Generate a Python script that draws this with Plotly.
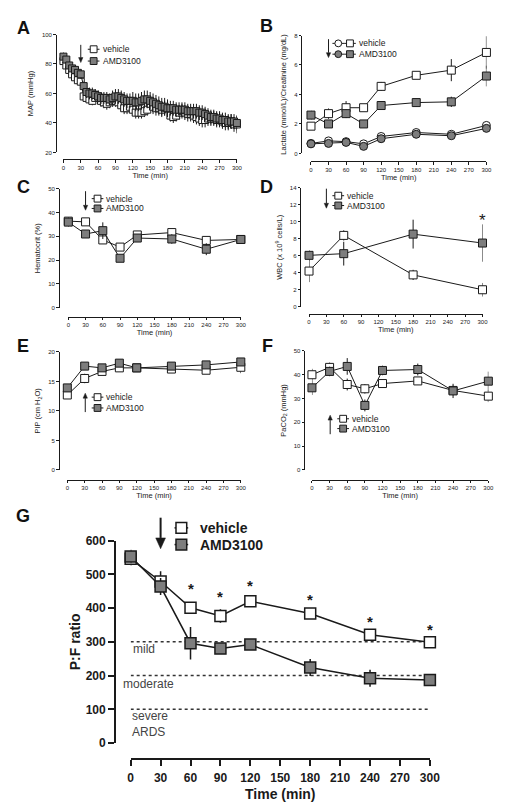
import plotly.graph_objects as go

# ---------------- data ----------------
x_ticks = [0, 30, 60, 90, 120, 150, 180, 210, 240, 270, 300]

# A: MAP, sampled every 5 min
time_map = list(range(0, 301, 5))
map_vehicle = [82, 79, 76, 73, 71, 69, 68,
               58, 57, 56, 55, 57, 58,
               55, 54, 53, 54, 55, 55,
               54, 52, 50, 50, 51, 49,
               47, 47, 47, 48, 49, 53,
               51, 50, 50, 49, 50, 50,
               45, 44, 45, 47, 48, 47,
               46, 46, 45, 44, 43, 42,
               42, 43, 43, 43, 42, 42,
               41, 40, 40, 41, 39, 39]
map_vehicle_sem = [3, 3, 3, 3, 3, 3, 3,
                   3, 3, 3, 3, 4, 4,
                   4, 4, 4, 4, 4, 4,
                   4, 4, 4, 4, 4, 4,
                   4, 4, 4, 4, 4, 5,
                   5, 5, 5, 5, 5, 5,
                   4, 4, 4, 5, 5, 5,
                   5, 5, 5, 5, 5, 5,
                   5, 5, 5, 5, 5, 5,
                   5, 5, 5, 5, 5, 6]
map_amd = [85, 83, 79, 77, 76, 74, 73,
           65, 61, 60, 60, 59, 58,
           57, 57, 57, 56, 57, 58,
           58, 57, 56, 55, 55, 55,
           54, 54, 55, 56, 56, 55,
           54, 53, 52, 51, 51, 50,
           50, 50, 49, 49, 49, 49,
           48, 48, 48, 48, 47, 47,
           46, 45, 44, 44, 43, 43,
           42, 42, 41, 41, 41, 40]
map_amd_sem = [3, 3, 3, 3, 3, 3, 3,
               3, 4, 4, 4, 4, 4,
               4, 4, 4, 4, 5, 5,
               5, 5, 5, 5, 5, 6,
               6, 6, 6, 6, 6, 6,
               6, 6, 6, 6, 6, 6,
               5, 5, 5, 5, 5, 5,
               5, 5, 5, 5, 5, 5,
               5, 5, 5, 5, 5, 5,
               5, 5, 5, 5, 5, 5]

time_8 = [0, 30, 60, 90, 120, 180, 240, 300]

# B: lactate (squares) and creatinine (circles)
lactate_vehicle = [1.85, 2.7, 3.1, 3.1, 4.55, 5.3, 5.65, 6.85]
lactate_vehicle_sem = [0.2, 0.35, 0.45, 0.2, 0.3, 0.2, 0.75, 1.1]
lactate_amd = [2.6, 2.0, 2.7, 2.0, 3.25, 3.45, 3.5, 5.25]
lactate_amd_sem = [0.3, 0.2, 0.3, 0.15, 0.2, 0.25, 0.35, 0.7]
creat_vehicle = [0.68, 0.85, 0.8, 0.65, 1.15, 1.42, 1.3, 1.9]
creat_vehicle_sem = [0.05, 0.1, 0.1, 0.1, 0.1, 0.15, 0.1, 0.15]
creat_amd = [0.65, 0.68, 0.75, 0.48, 1.0, 1.3, 1.2, 1.7]
creat_amd_sem = [0.05, 0.08, 0.1, 0.08, 0.1, 0.12, 0.1, 0.12]

# C: hematocrit
hct_vehicle = [36.4, 36.1, 28.5, 25.5, 30.6, 31.6, 28.3, 28.7]
hct_vehicle_sem = [1.5, 1.0, 1.5, 1.5, 1.0, 1.5, 1.0, 1.0]
hct_amd = [36.0, 31.0, 32.4, 20.8, 29.3, 28.9, 24.6, 28.7]
hct_amd_sem = [2.0, 1.0, 3.5, 1.0, 1.0, 2.0, 2.5, 1.0]

# D: WBC
time_wbc = [0, 60, 180, 300]
wbc_vehicle = [4.2, 8.4, 3.75, 2.0]
wbc_vehicle_sem = [1.3, 0.6, 0.6, 0.8]
wbc_amd = [6.05, 6.25, 8.55, 7.5]
wbc_amd_sem = [0.6, 1.4, 1.7, 2.2]
wbc_star_time = [300]
wbc_star_y = [10.6]

# E: PIP
pip_vehicle = [12.7, 15.5, 16.7, 17.3, 17.3, 17.1, 16.9, 17.4]
pip_vehicle_sem = [0.5, 0.8, 0.5, 0.5, 0.4, 0.4, 0.6, 1.0]
pip_amd = [13.9, 17.6, 17.3, 18.1, 17.3, 17.6, 17.8, 18.3]
pip_amd_sem = [0.5, 0.4, 0.5, 0.5, 0.4, 0.4, 0.5, 0.6]

# F: PaCO2
co2_vehicle = [40.0, 43.1, 35.9, 34.1, 36.3, 37.4, 33.4, 31.0]
co2_vehicle_sem = [2.5, 2.0, 2.5, 2.0, 1.5, 1.5, 2.0, 2.5]
co2_amd = [34.5, 41.4, 43.5, 27.1, 41.8, 42.2, 33.2, 37.3]
co2_amd_sem = [3.0, 2.0, 3.5, 2.5, 2.0, 2.5, 3.0, 4.0]

# G: P:F ratio
pf_vehicle = [546, 479, 401, 377, 420, 384, 321, 299]
pf_vehicle_sem = [20, 30, 15, 20, 15, 15, 15, 10]
pf_amd = [553, 464, 296, 280, 292, 224, 192, 187]
pf_amd_sem = [20, 25, 48, 15, 12, 25, 25, 10]
pf_star_time = [60, 90, 120, 180, 240, 300]
pf_star_y = [469, 445, 479, 437, 372, 348]
ards_thresholds = [300, 200, 100]
ards_labels = ["mild", "moderate", "severe<br>ARDS"]
ards_label_y = [280, 175, 56]

series_names = ["vehicle", "AMD3100"]

# ---------------- style ----------------
W, H = 512, 812
FONT = "Liberation Sans, Arial, sans-serif"
INK = "#1a1a1a"
GREY = "#7d7d7d"
WHITE = "#ffffff"

fig = go.Figure()
GEO = {}


def px(x):
    return x / W


def py(y):
    return 1 - y / H


def sfx(i):
    return "" if i == 1 else str(i)


def to_px(i, x, y):
    X0, X300, YB, YT, ymin, ymax = GEO[i]
    return (X0 + x * (X300 - X0) / 300.0,
            YB - (y - ymin) * (YB - YT) / float(ymax - ymin))


def axes(i, X0, X300, YB, YT, yrange, xline, yline, yticks, ytitle,
         ystand, xstand=2, big=False):
    GEO[i] = (X0, X300, YB, YT, yrange[0], yrange[1])
    tickfont = dict(family=FONT, size=12 if big else 6, color=INK,
                    weight="bold" if big else "normal")
    titlefont = dict(family=FONT, size=14 if big else 7.5, color=INK,
                     weight="bold" if big else "normal")
    common = dict(showline=True, linecolor=INK, linewidth=2 if big else 1,
                  ticks="outside", ticklen=6 if big else 2.5,
                  tickwidth=2 if big else 1, tickcolor=INK,
                  showgrid=False, zeroline=False, anchor="free",
                  tickfont=tickfont, fixedrange=True)
    fig.layout["xaxis" + sfx(i)] = dict(
        domain=[px(X0), px(X300)], range=[0, 300], position=py(xline),
        tickvals=x_ticks, ticklabelstandoff=2 if big else 0,
        title=dict(text="Time (min)", font=titlefont, standoff=xstand),
        **common)
    fig.layout["yaxis" + sfx(i)] = dict(
        domain=[py(YB), py(YT)], range=yrange, position=px(yline),
        tickvals=yticks,
        title=dict(text=ytitle, font=titlefont, standoff=ystand),
        **common)


def series(i, x, y, err, fill, symbol="square", size=8, lw=1, name=""):
    fig.add_trace(go.Scatter(
        x=x, y=y, mode="lines+markers", name=name,
        xaxis="x" + sfx(i), yaxis="y" + sfx(i),
        line=dict(color=INK, width=lw),
        marker=dict(symbol=symbol, size=size, color=fill,
                    line=dict(color=INK, width=lw)),
        error_y=dict(type="data", array=err, visible=True, color=INK,
                     thickness=lw, width=0),
        cliponaxis=False, showlegend=False, hoverinfo="skip"))


def key(cx, cy, fill, shape="rect", size=7, seg=6, lw=1):
    fig.add_shape(type="line", xref="paper", yref="paper",
                  x0=px(cx - seg), x1=px(cx + seg), y0=py(cy), y1=py(cy),
                  line=dict(color=INK, width=lw), layer="above")
    h = size / 2
    fig.add_shape(type=shape, xref="paper", yref="paper",
                  x0=px(cx - h), x1=px(cx + h), y0=py(cy + h), y1=py(cy - h),
                  fillcolor=fill, line=dict(color=INK, width=lw), layer="above")


def key_text(tx, cy, text, size=8.5, bold=False):
    fig.add_annotation(xref="paper", yref="paper", x=px(tx), y=py(cy),
                       text=text, showarrow=False, xanchor="left",
                       yanchor="middle",
                       font=dict(family=FONT, size=size, color=INK,
                                 weight="bold" if bold else "normal"))


def legend(cx, cy1, cy2, tx, size=7, seg=6, lw=1, fsize=8.5, bold=False,
           circle_x=None):
    for cy, fill, nm in [(cy1, WHITE, series_names[0]), (cy2, GREY, series_names[1])]:
        if circle_x is not None:
            key(circle_x, cy, fill, shape="circle", size=size, seg=seg, lw=lw)
        key(cx, cy, fill, size=size, seg=seg, lw=lw)
        key_text(tx, cy, nm, size=fsize, bold=bold)


def arrow(i, x, head, tail, width=1, hw=2.2, hl=5):
    """Treatment arrow drawn with shapes (shaft + triangular head)."""
    xh, yh = to_px(i, x, head)
    xt, yt = to_px(i, x, tail)
    d = 1 if yh > yt else -1  # pointing down (+1) or up (-1)
    ybase = yh - d * hl
    fig.add_shape(type="line", xref="paper", yref="paper",
                  x0=px(xt), x1=px(xt), y0=py(yt), y1=py(ybase),
                  line=dict(color=INK, width=width), layer="above")
    path = "M {:.5f},{:.5f} L {:.5f},{:.5f} L {:.5f},{:.5f} Z".format(
        px(xh), py(yh), px(xh - hw), py(ybase), px(xh + hw), py(ybase))
    fig.add_shape(type="path", xref="paper", yref="paper", path=path,
                  fillcolor=INK, line=dict(color=INK, width=0.5),
                  layer="above")


def panel_label(x, y, text):
    fig.add_annotation(xref="paper", yref="paper", x=px(x), y=py(y),
                       text=text, showarrow=False, xanchor="center",
                       yanchor="middle",
                       font=dict(family=FONT, size=18, color="#111",
                                 weight="bold"))


# ---------------- panel A ----------------
axes(1, 62, 240, 148, 28, [20, 100], 155, 54, [20, 40, 60, 80, 100],
     "MAP (mmHg)", ystand=6)
series(1, time_map, map_vehicle, map_vehicle_sem, WHITE, size=7, name="vehicle")
series(1, time_map, map_amd, map_amd_sem, GREY, size=7, name="AMD3100")
arrow(1, 30, 81, 93)
legend(93, 43, 55, 101)
panel_label(21, 21, "A")

# ---------------- panel B ----------------
axes(2, 316, 496, 149, 29, [0, 8], 157, 306, [0, 2, 4, 6, 8],
     "Lactate (mmol/L)/Creatinine (mg/dL)", ystand=5)
series(2, time_8, creat_vehicle, creat_vehicle_sem, WHITE, symbol="circle", size=8)
series(2, time_8, creat_amd, creat_amd_sem, GREY, symbol="circle", size=8)
series(2, time_8, lactate_vehicle, lactate_vehicle_sem, WHITE, size=8, name="vehicle")
series(2, time_8, lactate_amd, lactate_amd_sem, GREY, size=8, name="AMD3100")
arrow(2, 30, 6.5, 7.75)
legend(356, 37, 48, 363, circle_x=344)
panel_label(270, 19, "B")

# ---------------- panel C ----------------
axes(3, 67, 244, 306, 185, [0, 50], 315, 57, [0, 10, 20, 30, 40, 50],
     "Hematocrit (%)", ystand=5)
series(3, time_8, hct_vehicle, hct_vehicle_sem, WHITE, size=8, name="vehicle")
series(3, time_8, hct_amd, hct_amd_sem, GREY, size=8, name="AMD3100")
arrow(3, 30, 41, 49)
legend(97, 195, 205, 104)
panel_label(21, 183, "C")

# ---------------- panel D ----------------
axes(4, 314, 492, 305, 184, [0, 14], 312, 305, [0, 2, 4, 6, 8, 10, 12, 14],
     "WBC (x 10<sup>9</sup> cells/L)", ystand=5)
series(4, time_wbc, wbc_vehicle, wbc_vehicle_sem, WHITE, size=8, name="vehicle")
series(4, time_wbc, wbc_amd, wbc_amd_sem, GREY, size=8, name="AMD3100")
arrow(4, 30, 11.6, 13.9)
legend(344, 192, 202, 351)
for t, s in zip(wbc_star_time, wbc_star_y):
    fig.add_annotation(xref="x4", yref="y4", x=t, y=s, text="*",
                       showarrow=False, yshift=-4,
                       font=dict(family=FONT, size=17, color=INK))
panel_label(270, 183, "D")

# ---------------- panel E ----------------
axes(5, 66, 244, 471, 351, [0, 20], 481, 57, [0, 5, 10, 15, 20],
     "PIP (cm H<sub>2</sub>O)", ystand=5)
series(5, time_8, pip_vehicle, pip_vehicle_sem, WHITE, size=8, name="vehicle")
series(5, time_8, pip_amd, pip_amd_sem, GREY, size=8, name="AMD3100")
arrow(5, 31, 13.0, 9.8)
legend(97, 397, 408, 104)
panel_label(21, 345, "E")

# ---------------- panel F ----------------
axes(6, 317, 498, 471, 350, [0, 50], 481, 309, [0, 10, 20, 30, 40, 50],
     "PaCO<sub>2</sub> (mmHg)", ystand=5)
series(6, time_8, co2_vehicle, co2_vehicle_sem, WHITE, size=8, name="vehicle")
series(6, time_8, co2_amd, co2_amd_sem, GREY, size=8, name="AMD3100")
arrow(6, 31, 23, 15)
legend(349, 419, 429, 356)
panel_label(271, 345, "F")

# ---------------- panel G ----------------
axes(7, 131, 438, 749, 543, [0, 600], 765, 115,
     [0, 100, 200, 300, 400, 500, 600], "P:F ratio", ystand=1, xstand=4,
     big=True)
for thr in ards_thresholds:
    fig.add_shape(type="line", xref="x7", yref="y7", x0=0, x1=300,
                  y0=thr, y1=thr, line=dict(color="#333", width=1.5, dash="dot"),
                  layer="below")
for lab, ly, xs in zip(ards_labels, ards_label_y, [0, -10, -1]):
    fig.add_annotation(xref="x7", yref="y7", x=0, y=ly, text=lab,
                       showarrow=False, xanchor="left", yanchor="middle",
                       xshift=xs, align="left",
                       font=dict(family=FONT, size=12, color="#444"))
series(7, time_8, pf_vehicle, pf_vehicle_sem, WHITE, size=11, lw=1.5, name="vehicle")
series(7, time_8, pf_amd, pf_amd_sem, GREY, size=11, lw=1.5, name="AMD3100")
for t, s in zip(pf_star_time, pf_star_y):
    fig.add_annotation(xref="x7", yref="y7", x=t, y=s, text="*",
                       showarrow=False, yshift=-4,
                       font=dict(family=FONT, size=15, color=INK, weight="bold"))
arrow(7, 30, 576, 668, width=2, hw=5, hl=11)
legend(183, 530, 547, 200, size=11, seg=7, lw=1.5, fsize=14, bold=True)
panel_label(21, 518, "G")

fig.update_layout(width=W, height=H, margin=dict(l=0, r=0, t=0, b=0),
                  paper_bgcolor="white", plot_bgcolor="white",
                  showlegend=False)

fig.write_html("out.html", config={"displayModeBar": False},
               post_script="document.body.style.margin='0';"
                           "document.body.style.padding='0';")
